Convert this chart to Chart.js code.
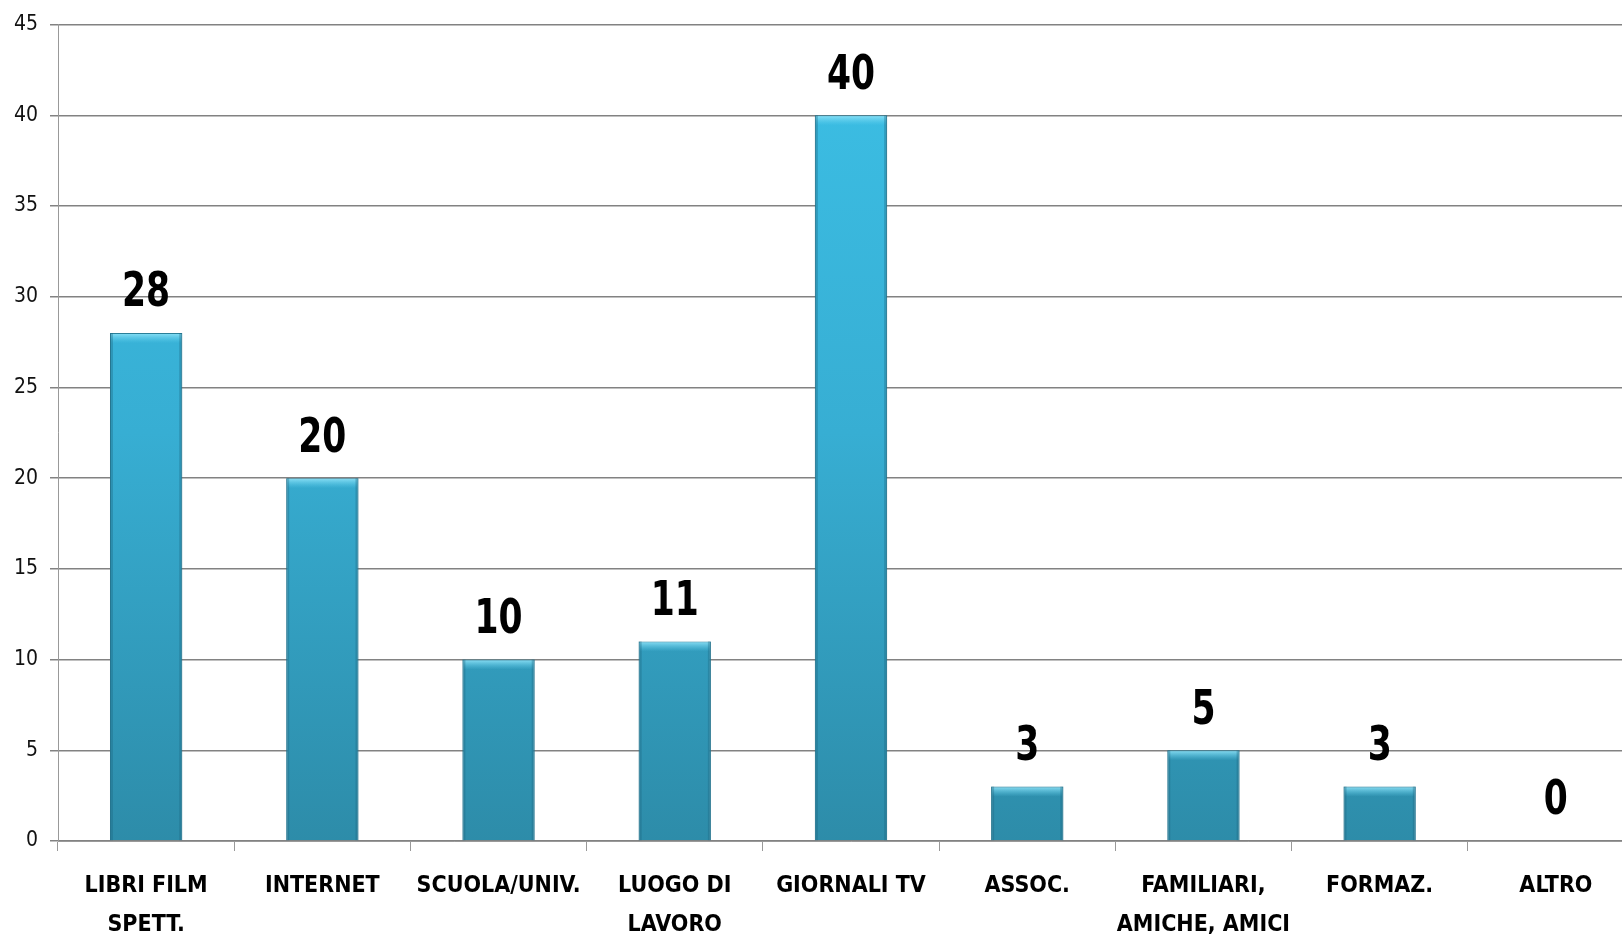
<!DOCTYPE html>
<html>
<head>
<meta charset="utf-8">
<script src="https://cdn.jsdelivr.net/npm/chart.js@4"></script>
<style>
  html, body { margin: 0; padding: 0; background: #fff; overflow: hidden; }
  #wrap { width: 1644px; height: 938px; }
</style>
</head>
<body>
<div id="wrap"><canvas id="grafico" width="1644" height="938"></canvas></div>
<script>
const categorie = [
  ['LIBRI FILM', 'SPETT.'],
  'INTERNET',
  'SCUOLA/UNIV.',
  ['LUOGO DI', 'LAVORO'],
  'GIORNALI TV',
  'ASSOC.',
  ['FAMILIARI,', 'AMICHE, AMICI'],
  'FORMAZ.',
  'ALTRO'
]
const valori = [28, 20, 10, 11, 40, 3, 5, 3, 0]
const tickY = [0, 5, 10, 15, 20, 25, 30, 35, 40, 45]

const fontNarrow = "'Liberation Sans Narrow', 'DejaVu Sans Condensed', sans-serif"

// gradiente verticale delle barre
function coloreBarra(ctx) {
  const chart = ctx.chart
  const area = chart.chartArea
  if (!area) return '#38aacb'
  const g = chart.ctx.createLinearGradient(0, area.top, 0, area.bottom)
  g.addColorStop(0, '#3cc0e6')
  g.addColorStop(0.5, '#37aed3')
  g.addColorStop(1, '#2d8ca9')
  return g
}

// etichette con i valori sopra le barre + riflesso in alto
const etichette = {
  id: 'etichette',
  afterDatasetsDraw(chart) {
    const c = chart.ctx
    const meta = chart.getDatasetMeta(0)
    meta.data.forEach((bar, i) => {
      const w = bar.width
      const h = bar.base - bar.y
      if (h > 4) {
        c.save()
        const x0 = bar.x - w / 2
        const hl = c.createLinearGradient(0, bar.y, 0, bar.y + 10)
        hl.addColorStop(0, 'rgba(150,230,250,0.9)')
        hl.addColorStop(1, 'rgba(100,210,240,0.0)')
        c.fillStyle = hl
        c.fillRect(x0 + 1, bar.y + 1, w - 2, Math.min(10, h - 2))
        // bordi laterali scuri
        c.fillStyle = 'rgba(30,100,125,0.35)'
        c.fillRect(x0, bar.y, 3, h)
        c.fillRect(x0 + w - 3, bar.y, 3, h)
        c.restore()
      }
      c.save()
      c.fillStyle = '#000'
      c.font = 'bold 48px ' + fontNarrow
      c.textAlign = 'center'
      c.textBaseline = 'middle'
      c.translate(bar.x, bar.y - 39)
      c.scale(0.8, 1)
      c.fillText(String(valori[i]), 0, 0)
      c.restore()
    })
  }
}

new Chart(document.getElementById('grafico'), {
  type: 'bar',
  data: {
    labels: categorie,
    datasets: [{
      data: valori,
      backgroundColor: coloreBarra,
      borderColor: '#2a7f99',
      borderWidth: 1,
      barPercentage: 0.82,
      categoryPercentage: 0.5
    }]
  },
  options: {
    responsive: false,
    animation: false,
    layout: { padding: { top: 18, right: 0, left: 0, bottom: 0 } },
    plugins: {
      legend: { display: false },
      tooltip: { enabled: false }
    },
    scales: {
      x: {
        afterFit(scale) { scale.height = 97 },
        grid: {
          offset: true,
          drawOnChartArea: false,
          drawTicks: true,
          tickLength: 10,
          color: '#999',
          lineWidth: 1
        },
        border: { color: '#999', width: 1 },
        ticks: {
          color: '#000',
          padding: 15,
          maxRotation: 0,
          autoSkip: false,
          font: { family: fontNarrow, size: 23, weight: 'bold', lineHeight: 1.7 }
        }
      },
      y: {
        min: 0,
        max: 45,
        afterFit(scale) { scale.width = 58 },
        afterBuildTicks(scale) { scale.ticks = tickY.map(v => ({ value: v })) },
        grid: {
          color: '#828282',
          lineWidth: 1.5,
          tickLength: 8
        },
        border: { color: '#999', width: 1 },
        ticks: {
          color: '#111',
          padding: 12,
          font: { family: fontNarrow, size: 21 }
        }
      }
    }
  },
  plugins: [etichette]
})
</script>
</body>
</html>
